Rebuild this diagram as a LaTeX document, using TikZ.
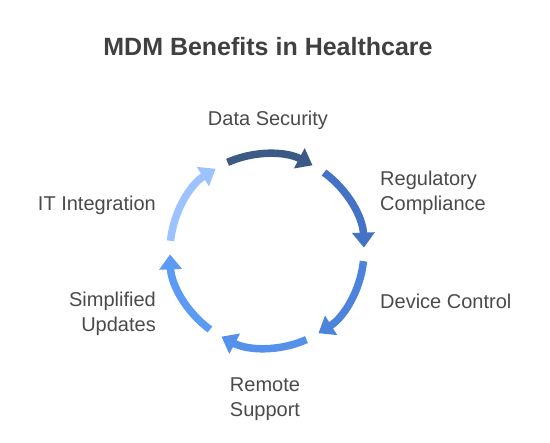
\documentclass[tikz,border=0pt]{standalone}
\usepackage{fontspec}
\setmainfont{Liberation Sans}
\usepackage{tikz}
\usetikzlibrary{positioning, arrows.meta}

\definecolor{textgray}{HTML}{4A4A4A}
\definecolor{titlegray}{HTML}{404040}
\definecolor{arcA}{HTML}{3B5A85}
\definecolor{arcB}{HTML}{4472C4}
\definecolor{arcC}{HTML}{4D84DB}
\definecolor{arcD}{HTML}{5590EB}
\definecolor{arcE}{HTML}{5B9BF5}
\definecolor{arcF}{HTML}{9CC3FF}

\begin{document}
\begin{tikzpicture}[
        x=1pt, y=1pt,
        label/.style={
          text=textgray,
          font=\fontsize{20}{25}\selectfont,
          inner sep=0pt
        },
        arcarrow/.style={
          line width=7.5pt,
          -{Triangle[width=22pt, length=15pt]}
        }
      ]

      \useasboundingbox (0,0) rectangle (550,443);

      % Titulo
      \node[text=titlegray, font=\fontsize{25}{30}\selectfont\bfseries] (title) at (268,396) {MDM Benefits in Healthcare};

      % Centro
      \coordinate (c) at (267,192);

      % Etiquetas
      \node[label] (sec) at (268,323) {Data Security};
      \node[label, anchor=west, align=left] (reg) at (380,250) {Regulatory\\Compliance};
      \node[label, anchor=west] (dev) at (380,142) {Device Control};
      \node[label, align=center] (rem) at (265,44) {Remote\\Support};
      \node[label, anchor=east, align=right] (upd) at (156,129) {Simplified\\Updates};
      \node[label, anchor=east] (itg) at (156,238) {IT Integration};

      % Flechas
      \draw[arcarrow, arcA] ([shift={(114:97)}]c) arc[start angle=114, end angle=62, radius=97];
      \draw[arcarrow, arcB] ([shift={(54:97)}]c) arc[start angle=54, end angle=2, radius=97];
      \draw[arcarrow, arcC] ([shift={(-6:97)}]c) arc[start angle=-6, end angle=-58, radius=97];
      \draw[arcarrow, arcD] ([shift={(-66:97)}]c) arc[start angle=-66, end angle=-118, radius=97];
      \draw[arcarrow, arcE] ([shift={(-126:97)}]c) arc[start angle=-126, end angle=-178, radius=97];
      \draw[arcarrow, arcF] ([shift={(174:97)}]c) arc[start angle=174, end angle=122, radius=97];

    \end{tikzpicture}
\end{document}
